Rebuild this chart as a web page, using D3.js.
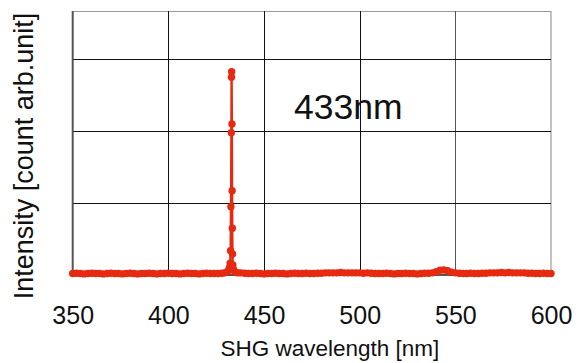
<!DOCTYPE html>
<html><head><meta charset="utf-8">
<script src="https://cdn.jsdelivr.net/npm/d3@7"></script>
<style>html,body{margin:0;padding:0;background:#fff}svg{display:block}</style>
</head><body>
<svg id="c" width="583" height="363"></svg>
<script>
// Wavelength sampling (nm) and intensities (units of one y gridline)
const xTicks = [350, 400, 450, 500, 550, 600];
const yGrid = [1, 2, 3];
const lowWl = d3.range(350, 429, 2);           // 350..428
const lowVal = [0.02,0.025,0.02,0.015,0.02,0.025,0.02,0.02,0.015,0.02,
  0.025,0.02,0.02,0.015,0.02,0.025,0.02,0.015,0.02,0.02,
  0.025,0.02,0.015,0.02,0.02,0.025,0.02,0.02,0.015,0.02,
  0.025,0.02,0.02,0.015,0.02,0.025,0.02,0.02,0.02,0.025];
const peakWl = [429.5,430.5,431.3,431.9,432.3,432.5,432.7,432.9,433.0,433.1,433.25,433.35,433.45,433.55,433.7,434.0,434.6,435.4,436.4];
const peakVal = [0.03,0.04,0.06,0.1,0.163,0.338,0.949,1.976,2.746,2.824,2.097,1.171,0.649,0.292,0.14,0.08,0.05,0.035,0.03];
const highWl = d3.range(438, 601, 2);          // 438..600
const highVal = [0.03,0.025,0.02,0.02,0.025,0.02,0.015,0.02,0.02,0.025,0.02,0.02,0.015,0.02,0.025,0.02,0.02,0.025,0.02,0.02,0.025,
  0.025,0.03,0.03,0.03,0.03,0.035,0.03,0.03,0.03,0.03,0.03,0.025,0.03,0.025,0.02,0.02,
  0.02,0.025,0.02,0.015,0.02,0.02,0.025,0.02,0.02,0.015,0.02,0.025,0.025,0.03,
  0.045,0.065,0.07,0.06,0.04,0.03,0.025,
  0.02,0.02,0.025,0.02,0.02,0.025,0.025,0.03,0.03,0.03,0.035,0.03,0.035,0.03,0.03,0.03,0.03,0.025,0.025,0.02,0.02,0.025,0.02,0.02];
const annotation = "433nm";
const xTitle = "SHG wavelength [nm]";
const yTitle = "Intensity [count arb.unit]";

const data = [];
lowWl.forEach((w,i)=>data.push({w, v: lowVal[i]}));
peakWl.forEach((w,i)=>data.push({w, v: peakVal[i]}));
highWl.forEach((w,i)=>data.push({w, v: highVal[i]}));

const svg = d3.select("#c");
const font = "'Liberation Sans', Arial, Helvetica, sans-serif";
const L = 72.7, R = 551, T = 11, B = 275;
const x = d3.scaleLinear().domain([350, 600]).range([L, R]);
const y = d3.scaleLinear().domain([0, 3.667]).range([B, T]);
const red = "#e62a10";

// frame
svg.append("line").attr("x1", L).attr("x2", R).attr("y1", T+0.5).attr("y2", T+0.5).attr("stroke", "#9a9a9a").attr("stroke-width", 1.2);
svg.append("line").attr("x1", R).attr("x2", R).attr("y1", T).attr("y2", B).attr("stroke", "#9a9a9a").attr("stroke-width", 1.2);

// grid
const g = svg.append("g");
g.selectAll("line.v").data(xTicks.slice(1, -1)).join("line")
  .attr("x1", d => Math.round(x(d)) + 0.5).attr("x2", d => Math.round(x(d)) + 0.5)
  .attr("y1", T).attr("y2", B).attr("stroke", d => d === 550 ? "#555" : "#111").attr("stroke-width", 1);
g.selectAll("line.h").data(yGrid).join("line")
  .attr("x1", L).attr("x2", R)
  .attr("y1", d => Math.round(y(d)) + 0.5).attr("y2", d => Math.round(y(d)) + 0.5)
  .attr("stroke", "#111").attr("stroke-width", 1);

// left axis and bottom axis
svg.append("line").attr("x1", L).attr("x2", L).attr("y1", T).attr("y2", B).attr("stroke", "#555").attr("stroke-width", 2);
svg.append("line").attr("x1", L).attr("x2", R).attr("y1", B).attr("y2", B).attr("stroke", "#555").attr("stroke-width", 2);

// x tick labels via axis
const xAxis = d3.axisBottom(x).tickValues(xTicks).tickSize(0).tickPadding(0);
const ax = svg.append("g").attr("transform", `translate(0,${B})`).call(xAxis);
ax.select(".domain").remove();
ax.selectAll("text").attr("font-family", font).attr("font-size", 25).attr("fill", "#111")
  .attr("dy", null).attr("y", 49);

// line + markers
const line = d3.line().x(d => x(d.w)).y(d => y(d.v));
svg.append("path").datum(data).attr("d", line).attr("fill", "none").attr("stroke", red).attr("stroke-width", 2.2).attr("stroke-linejoin", "round");
svg.selectAll("circle.m").data(data).join("circle")
  .attr("cx", d => x(d.w)).attr("cy", d => y(d.v)).attr("r", 3.7).attr("fill", red);

// annotation
svg.append("text").attr("x", 294).attr("y", 119).attr("font-family", font).attr("font-size", 35.5).attr("fill", "#111").text(annotation);

// titles
svg.append("text").attr("x", (L + R) / 2 + 18).attr("y", 356).attr("text-anchor", "middle")
  .attr("font-family", font).attr("font-size", 22.5).attr("fill", "#111").text(xTitle);
svg.append("text").attr("transform", "translate(33,156) rotate(-90)").attr("text-anchor", "middle")
  .attr("font-family", font).attr("font-size", 27).attr("fill", "#111").text(yTitle);
</script>
</body></html>
